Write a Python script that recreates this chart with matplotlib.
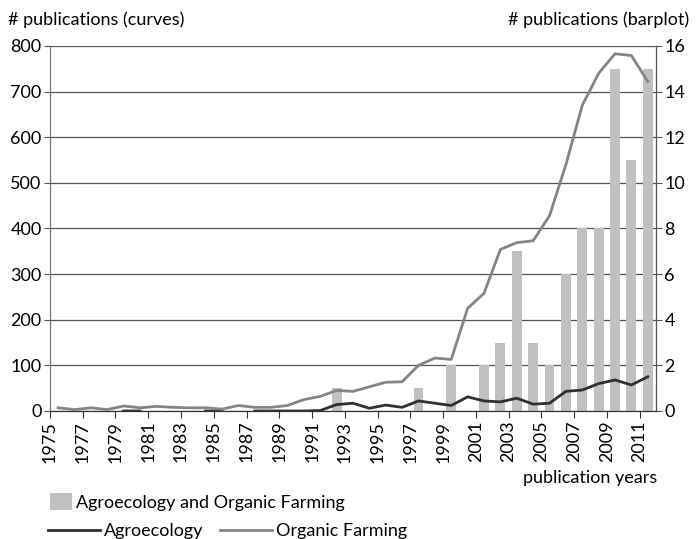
import numpy as np
import matplotlib
matplotlib.use('Agg')
import matplotlib.pyplot as plt
from matplotlib.patches import Patch
from matplotlib.lines import Line2D

plt.rcParams['font.family'] = ['Lato', 'DejaVu Sans']

# Data
years = list(range(1975, 2012))
organic = [7, 3, 7, 3, 11, 7, 10, 8, 7, 7, 4, 12, 8, 8, 12, 25, 32, 45, 43, 53,
           63, 64, 100, 116, 113, 225, 258, 354, 369, 373, 428, 540, 670, 740,
           783, 779, 722]
nan = np.nan
agro = [nan, nan, nan, nan, 0, 0, nan, nan, nan, 0, 0, nan, 0, 0, 0, 0, 1, 14,
        17, 6, 13, 8, 22, 17, 12, 31, 22, 20, 28, 15, 17, 43, 46, 60, 68, 57, 75]
both = [0, 0, 0, 0, 0, 0, 0, 0, 0, 0, 0, 0, 0, 0, 0, 0, 0, 1, 0, 0, 0, 0, 1, 0,
        2, 0, 2, 3, 7, 3, 2, 6, 8, 8, 15, 11, 15]
tick_years = list(range(1975, 2012, 2))

F = 13
x = np.array(years) + 0.5

fig = plt.figure(figsize=(6.96, 5.39), dpi=100)
ax2 = fig.add_axes([0.0718, 0.2375, 0.8707, 0.6772])
ax = ax2.twinx()
ax.yaxis.tick_left()
ax2.yaxis.tick_right()

# bars + grid on ax2 (behind)
ax2.bar(x, both, width=0.6, color='#c0c0c0', zorder=2)
ax2.set_ylim(0, 16)
ax2.set_yticks(range(0, 17, 2))
ax2.set_axisbelow(True)
ax2.grid(axis='y', color='#555555', lw=0.9, zorder=0)
ax2.set_xlim(1975, 2012)
ax2.set_xticks(tick_years)
ax2.set_xticklabels([str(t) for t in tick_years], rotation=90, fontsize=F)
ax2.tick_params(axis='y', labelsize=F, length=4, color='#555555', pad=2)
ax2.tick_params(axis='x', length=5, color='#333333', pad=2)

# curves
ax.plot(x, agro, color='#303030', lw=2, zorder=3)
ax.plot(x, organic, color='#858585', lw=2, zorder=3)
ax.set_ylim(0, 800)
ax.set_yticks(range(0, 801, 100))
ax.tick_params(axis='y', labelsize=F, length=4, color='#555555', pad=2)

for a in (ax, ax2):
    a.spines['top'].set_visible(False)
    a.spines['left'].set_color('#777777')
    a.spines['right'].set_color('#555555')
    a.spines['bottom'].set_color('#333333')

fig.text(8 / 696, 1 - 20 / 539, '# publications (curves)', fontsize=F,
         va='center', ha='left')
fig.text(689 / 696, 1 - 20 / 539, '# publications (barplot)', fontsize=F,
         va='center', ha='right')
fig.text(657 / 696, 1 - 478 / 539, 'publication years', fontsize=F,
         va='center', ha='right')

# legend
h1 = [Patch(facecolor='#c0c0c0', edgecolor='none')]
fig.legend(h1, ['Agroecology and Organic Farming'], loc='center left',
           bbox_to_anchor=(50 / 696, 1 - 502 / 539), frameon=False,
           fontsize=F, handlelength=1.2, handleheight=1.0, handletextpad=0.25,
           borderaxespad=0, borderpad=0)
h2 = [Line2D([], [], color='#303030', lw=2), Line2D([], [], color='#858585', lw=2)]
fig.legend(h2, ['Agroecology', 'Organic Farming'], loc='center left',
           bbox_to_anchor=(48 / 696, 1 - 531 / 539), frameon=False,
           fontsize=F, ncol=2, handlelength=2.9, handletextpad=0.2,
           columnspacing=0.9, borderaxespad=0, borderpad=0)

plt.savefig('out.png', dpi=100)
plt.close()
